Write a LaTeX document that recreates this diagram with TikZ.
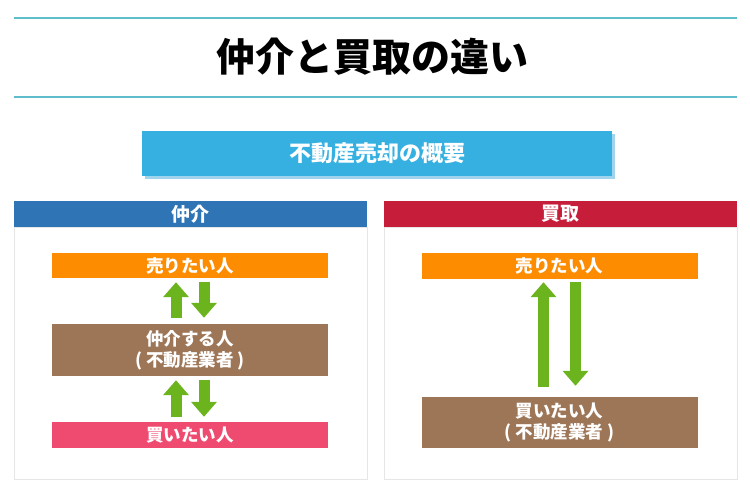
\documentclass[tikz,border=0pt]{standalone}
\usepackage{fontspec}
\setmainfont{Noto Sans CJK JP}
\usetikzlibrary{positioning,arrows.meta,shadows}
\definecolor{rulec}{RGB}{96,190,204}
\definecolor{sky}{RGB}{54,176,224}
\definecolor{skyshadow}{RGB}{160,212,236}
\definecolor{navy}{RGB}{47,116,181}
\definecolor{crimson}{RGB}{197,29,58}
\definecolor{orangec}{RGB}{253,140,0}
\definecolor{brownc}{RGB}{157,118,88}
\definecolor{pinkc}{RGB}{239,74,111}
\definecolor{leaf}{RGB}{108,180,30}
\definecolor{panelline}{RGB}{230,230,230}
\tikzset{
  box/.style={fill=#1,text=white,inner sep=0pt,minimum width=276pt,align=center,font=\bfseries\fontsize{17.5}{21}\selectfont},
  hdr/.style={fill=#1,text=white,inner sep=0pt,minimum width=353pt,minimum height=26pt,font=\bfseries\fontsize{19}{20}\selectfont},
  panel/.style={draw=panelline,line width=0.8pt,inner sep=0pt,minimum width=353pt,minimum height=252pt},
  arr/.style={-{Triangle[width=25pt,length=15pt]},line width=11pt,draw=leaf}
}
\begin{document}
\begin{tikzpicture}[x=1pt,y=-1pt]
  \useasboundingbox (0,0) rectangle (750,495);
  \draw[rulec,line width=1.2pt] (14,18) -- (737,18);
  \draw[rulec,line width=1.2pt] (14,97) -- (737,97);
  \node[font=\bfseries\fontsize{39}{40}\selectfont] (title) at (372,57) {仲介と買取の違い};
  \node[fill=sky,text=white,minimum width=470pt,minimum height=45pt,inner sep=0pt,
    font=\bfseries\fontsize{22}{24}\selectfont,
    drop shadow={shadow xshift=3pt,shadow yshift=-3pt,fill=skyshadow,opacity=1}] (summary) at (377,153.5) {不動産売却の概要};
  % left: broker
  \node[hdr=navy] (lhead) at (190.5,214) {仲介};
  \node[panel,below=0pt of lhead] (lpanel) {};
  \node[box=orangec,minimum height=25pt] (lsell) at (190,265.5) {売りたい人};
  \node[box=brownc,minimum height=52pt] (lagent) at (190,350) {仲介する人\\( 不動産業者 )};
  \node[box=pinkc,minimum height=26pt] (lbuy) at (190,435) {買いたい人};
  \draw[arr] ([xshift=-14pt,yshift=6pt]lagent.north) -- ([xshift=-14pt,yshift=-4pt]lsell.south);
  \draw[arr] ([xshift=14pt,yshift=-4pt]lsell.south) -- ([xshift=14pt,yshift=6pt]lagent.north);
  \draw[arr] ([xshift=-14pt,yshift=5pt]lbuy.north) -- ([xshift=-14pt,yshift=-4pt]lagent.south);
  \draw[arr] ([xshift=14pt,yshift=-4pt]lagent.south) -- ([xshift=14pt,yshift=5pt]lbuy.north);
  % right: purchase
  \node[hdr=crimson] (rhead) at (560.5,214) {買取};
  \node[panel,below=0pt of rhead] (rpanel) {};
  \node[box=orangec,minimum height=26pt] (rsell) at (559.5,266) {売りたい人};
  \node[box=brownc,minimum height=51pt] (rbuy) at (559.5,422.5) {買いたい人\\( 不動産業者 )};
  \draw[arr] ([xshift=-16pt,yshift=10pt]rbuy.north) -- ([xshift=-16pt,yshift=-3pt]rsell.south);
  \draw[arr] ([xshift=16pt,yshift=-3pt]rsell.south) -- ([xshift=16pt,yshift=11pt]rbuy.north);
\end{tikzpicture}
\end{document}
